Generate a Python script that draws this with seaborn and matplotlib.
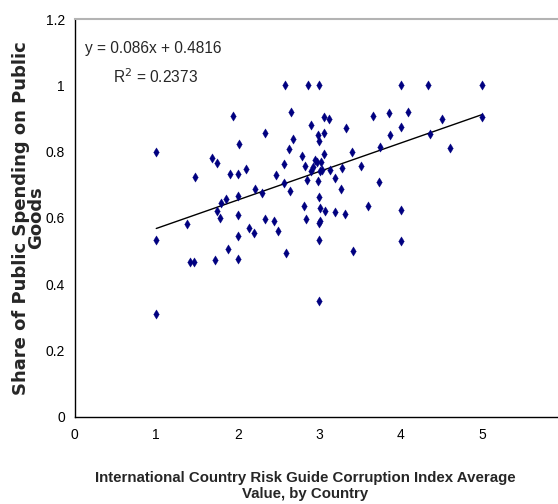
import matplotlib
matplotlib.use("Agg")
import matplotlib.pyplot as plt
import seaborn as sns
import pandas as pd
import numpy as np

# ICRG corruption index (average, by country) and share of public spending on public goods
corruption_index = [
    1.0, 1.945, 2.015, 1.69, 1.74, 1.48, 1.90, 2.0, 1.86, 2.0, 1.80, 1.0, 1.0,
    1.377, 1.417, 1.466, 1.716, 1.745, 1.78, 1.884, 2.0, 2.0, 2.0, 2.134, 2.2,
    2.334, 2.448, 2.497, 2.595, 2.816, 2.833, 3.0, 3.01, 3.07, 3.196, 3.32,
    3.01, 3.0, 3.0, 3.0, 3.594, 4.0, 4.0, 3.41, 2.583, 2.858, 3.0, 2.653,
    3.06, 3.12, 2.90, 3.33, 2.334, 2.99, 3.06, 3.0, 2.673, 2.624, 2.784,
    3.06, 2.95, 3.024, 2.975, 2.563, 2.82, 2.918, 2.90, 3.01, 3.03, 3.135,
    3.275, 2.104, 2.465, 2.85, 2.99, 3.196, 2.563, 2.211, 2.30, 2.644, 3.266,
    4.0, 4.333, 5.0, 3.663, 3.856, 4.09, 4.505, 5.0, 4.0, 3.868, 4.358,
    3.748, 4.604, 3.397, 3.515, 3.729,
]
public_goods_share = [
    0.80, 0.907, 0.823, 0.78, 0.765, 0.723, 0.732, 0.732, 0.657, 0.667, 0.645,
    0.532, 0.308, 0.582, 0.466, 0.466, 0.471, 0.621, 0.598, 0.505, 0.609,
    0.545, 0.476, 0.570, 0.554, 0.596, 0.590, 0.560, 0.495, 0.634, 0.596,
    0.664, 0.630, 0.620, 0.618, 0.612, 0.591, 0.583, 0.534, 0.350, 0.634,
    0.624, 0.529, 0.499, 1.0, 1.0, 1.0, 0.919, 0.905, 0.897, 0.880, 0.872,
    0.856, 0.850, 0.856, 0.833, 0.839, 0.807, 0.787, 0.792, 0.774, 0.767,
    0.768, 0.761, 0.757, 0.752, 0.741, 0.740, 0.745, 0.743, 0.750, 0.746,
    0.729, 0.714, 0.712, 0.719, 0.706, 0.688, 0.676, 0.682, 0.688, 1.0, 1.0,
    1.0, 0.907, 0.915, 0.920, 0.898, 0.904, 0.874, 0.851, 0.852, 0.814,
    0.810, 0.798, 0.757, 0.708,
]

# Linear trend as reported
slope = 0.086
intercept = 0.4816
r_squared = 0.2373

x_ticks = [0, 1, 2, 3, 4, 5]
y_ticks = [0, 0.2, 0.4, 0.6, 0.8, 1.0, 1.2]
y_tick_labels = ["0", "0.2", "0.4", "0.6", "0.8", "1", "1.2"]

sns.set_style("white")
plt.rcParams["font.family"] = ["Liberation Sans", "DejaVu Sans"]

df = pd.DataFrame({"icrg": corruption_index, "share": public_goods_share})
fit_x = np.array([min(corruption_index), max(corruption_index)])
trend = pd.DataFrame({"icrg": fit_x, "share": slope * fit_x + intercept})

fig = plt.figure(figsize=(5.58, 5.04), dpi=100)
ax = fig.add_axes([0.134, 0.1736, 0.866, 0.7887])

sns.lineplot(data=trend, x="icrg", y="share", ax=ax, color="black",
             linewidth=1.0, zorder=2)
sns.scatterplot(data=df, x="icrg", y="share", ax=ax, marker="d", s=22,
                color="#000080", edgecolor="#000080", linewidth=0.3, zorder=3)

ax.set_xlim(0, 5.93)
ax.set_ylim(0, 1.2)
ax.set_xticks(x_ticks)
ax.set_yticks(y_ticks)
ax.set_yticklabels(y_tick_labels)
ax.tick_params(axis="x", direction="inout", length=7, width=0.8,
               labelsize=10, pad=5, colors="black")
ax.tick_params(axis="y", direction="out", length=4, width=0.8,
               labelsize=10, pad=3, colors="black")

ax.spines["right"].set_visible(False)
ax.spines["top"].set_color("#b3b3b3")
ax.spines["top"].set_linewidth(1.5)
for side in ("left", "bottom"):
    ax.spines[side].set_color("black")
    ax.spines[side].set_linewidth(1.0)

ax.set_xlabel("International Country Risk Guide Corruption Index Average\nValue, by Country",
              fontsize=10.8, fontweight="bold", linespacing=1.15)
ax.xaxis.set_label_coords((305 - 74.8) / (558 - 74.8), -0.138)
ax.set_ylabel("Share of Public Spending on Public\nGoods",
              fontsize=13, fontweight="bold", linespacing=0.8,
              family=["DejaVu Sans"])
ax.yaxis.set_label_coords(-0.062, 0.5)

ax.text(0.125, 1.112, f"y = {slope}x + {intercept}", fontsize=11.2,
        ha="left", va="center")
ax.text(0.465, 1.027, f"R$^2$ = {r_squared}", fontsize=11.2,
        ha="left", va="center")

fig.savefig("out.png", dpi=100)
